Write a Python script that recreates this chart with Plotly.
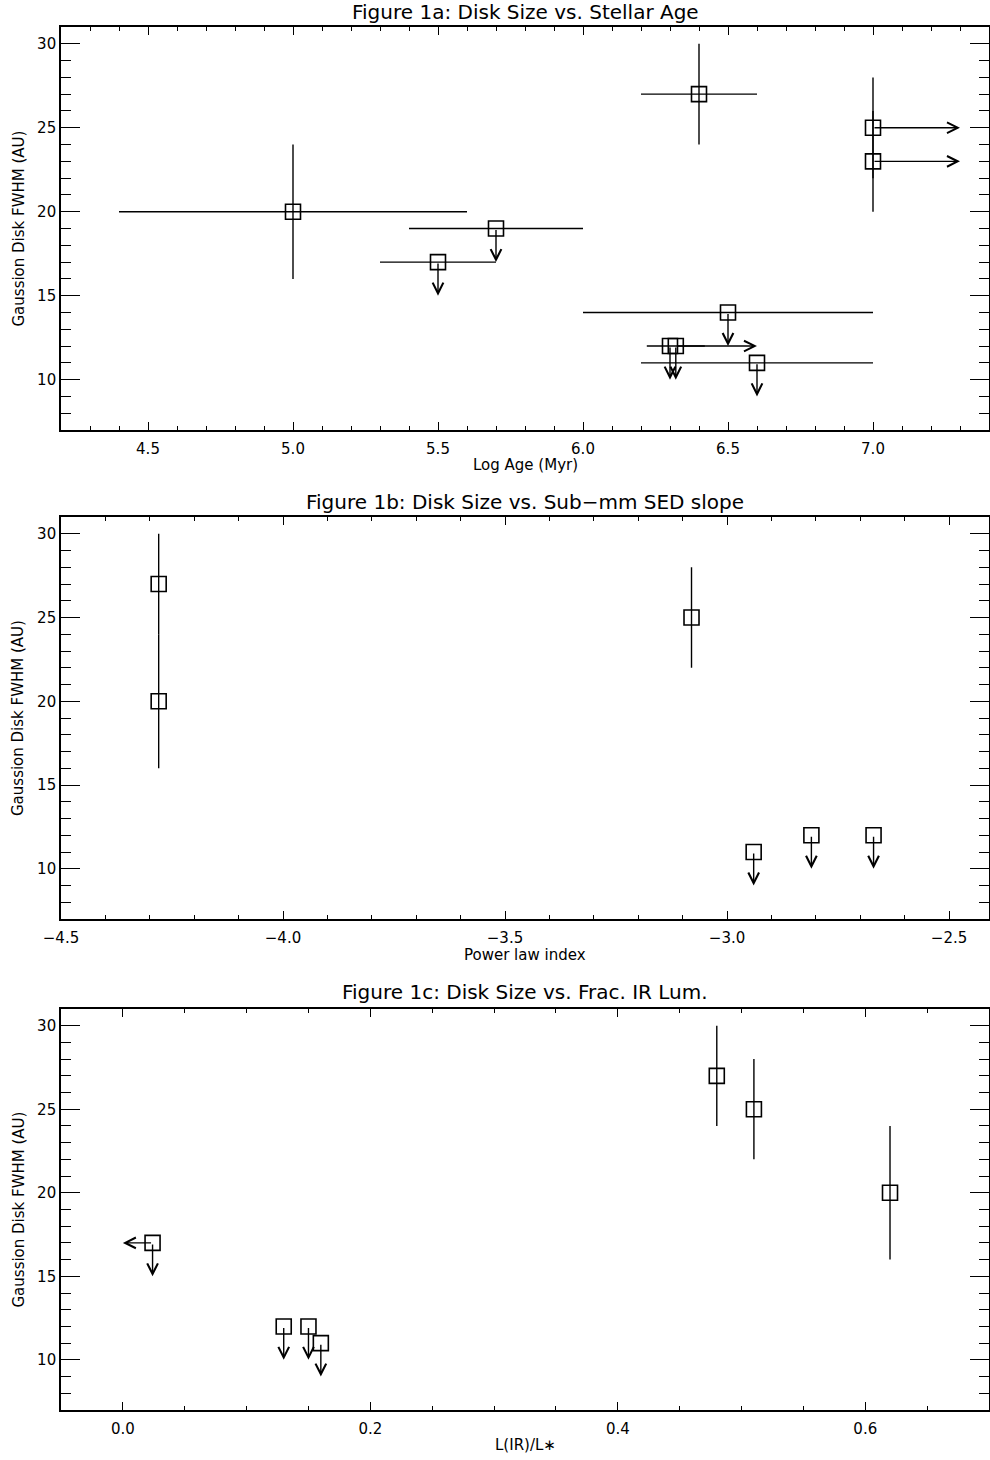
import plotly.graph_objects as go

# ---------------- Data ----------------
# Figure 1a: Log Age vs disk size
age = [5.0, 5.5, 5.7, 6.4, 7.0, 7.0, 6.5, 6.30, 6.32, 6.6]
age_lo = [4.4, 5.3, 5.4, 6.2, 7.0, 7.0, 6.0, 6.22, 6.32, 6.2]
age_hi = [5.6, 5.7, 6.0, 6.6, 7.0, 7.0, 7.0, 6.42, 6.32, 7.0]
size_a = [20, 17, 19, 27, 25, 23, 14, 12, 12, 11]
size_a_err = [4, 0, 0, 3, 3, 3, 0, 0, 0, 0]
# upper limits (down arrows) : index -> arrow end
a_ul_idx = [1, 2, 6, 7, 8, 9]
a_ul_end = [15, 17, 12, 10, 10, 9]
# lower limits on age (right arrows)
a_ll_idx = [4, 5, 8]
a_ll_end = [7.3, 7.3, 6.6]

# Figure 1b: sub-mm SED slope vs disk size
slope = [-4.28, -4.28, -3.08, -2.94, -2.81, -2.67]
size_b = [27, 20, 25, 11, 12, 12]
size_b_err = [3, 4, 3, 0, 0, 0]
b_ul_idx = [3, 4, 5]
b_ul_end = [9, 10, 10]

# Figure 1c: fractional IR luminosity vs disk size
lir = [0.024, 0.13, 0.15, 0.16, 0.48, 0.51, 0.62]
size_c = [17, 12, 12, 11, 27, 25, 20]
size_c_err = [0, 0, 0, 0, 3, 3, 4]
c_ul_idx = [0, 1, 2, 3]
c_ul_end = [15, 10, 10, 9]
c_xl_idx = [0]
c_xl_end = [0.0]

titles = ["Figure 1a: Disk Size vs. Stellar Age",
          "Figure 1b: Disk Size vs. Sub\u2212mm SED slope",
          "Figure 1c: Disk Size vs. Frac. IR Lum."]
xtitles = ["Log Age (Myr)", "Power law index", "L(IR)/L\u2217"]
ytitle = "Gaussion Disk FWHM (AU)"

# ---------------- Layout geometry ----------------
W, H = 990, 1460
xdom = [61 / W, 989 / W]
panels_px = [(27, 430), (517, 919), (1009, 1410)]
ydoms = [[1 - b / H, 1 - t / H] for (t, b) in panels_px]

FONT = "DejaVu Sans"
fig = go.Figure()

def add_points(x, y, yerr, xlo=None, xhi=None, k=1):
    ex = None
    if xlo is not None:
        ex = dict(type="data", symmetric=False,
                  array=[h - v for h, v in zip(xhi, x)],
                  arrayminus=[v - l for l, v in zip(xlo, x)],
                  color="black", thickness=1.4, width=0)
    fig.add_trace(go.Scatter(
        x=x, y=y, mode="markers",
        xaxis="x" if k == 1 else f"x{k}", yaxis="y" if k == 1 else f"y{k}",
        marker=dict(symbol="square-open", size=15, color="black",
                    line=dict(width=1.6, color="black")),
        error_y=dict(type="data", array=yerr, color="black", thickness=1.4, width=0),
        error_x=ex, showlegend=False, hoverinfo="skip"))

add_points(age, size_a, size_a_err, age_lo, age_hi, 1)
add_points(slope, size_b, size_b_err, None, None, 2)
add_points(lir, size_c, size_c_err, None, None, 3)

annotations = []

def arrow(x0, y0, x1, y1, k):
    xr = "x" if k == 1 else f"x{k}"
    yr = "y" if k == 1 else f"y{k}"
    annotations.append(dict(x=x1, y=y1, ax=x0, ay=y0, xref=xr, yref=yr,
                            axref=xr, ayref=yr, text="", showarrow=True,
                            arrowhead=5, arrowsize=1.5, arrowwidth=1.4,
                            arrowcolor="black", standoff=0, startstandoff=0))

for i, e in zip(a_ul_idx, a_ul_end):
    arrow(age[i], size_a[i], age[i], e, 1)
for i, e in zip(a_ll_idx, a_ll_end):
    arrow(age[i], size_a[i], e, size_a[i], 1)
for i, e in zip(b_ul_idx, b_ul_end):
    arrow(slope[i], size_b[i], slope[i], e, 2)
for i, e in zip(c_ul_idx, c_ul_end):
    arrow(lir[i], size_c[i], lir[i], e, 3)
for i, e in zip(c_xl_idx, c_xl_end):
    arrow(lir[i], size_c[i], e, size_c[i], 3)

# titles
title_y = [12, 502, 992]
xtitle_y = [465, 955, 1445]
for k in range(3):
    annotations.append(dict(x=0.5 * (xdom[0] + xdom[1]), y=1 - title_y[k] / H,
                            xref="paper", yref="paper", text=titles[k],
                            showarrow=False, xanchor="center", yanchor="middle",
                            font=dict(family=FONT, size=20, color="black")))
    annotations.append(dict(x=0.5 * (xdom[0] + xdom[1]), y=1 - xtitle_y[k] / H,
                            xref="paper", yref="paper", text=xtitles[k],
                            showarrow=False, xanchor="center", yanchor="middle",
                            font=dict(family=FONT, size=15, color="black")))
    t, b = panels_px[k]
    annotations.append(dict(x=18 / W, y=1 - (t + b) / 2 / H,
                            xref="paper", yref="paper", text=ytitle, textangle=-90,
                            showarrow=False, xanchor="center", yanchor="middle",
                            font=dict(family=FONT, size=15, color="black")))

xranges = [[4.2, 7.4], [-4.5, -2.41], [-0.05, 0.7]]
xdticks = [0.5, 0.5, 0.2]
xminor = [0.1, 0.1, 0.05]
xformats = [".1f", ".1f", ".1f"]

common_x = dict(ticks="inside", ticklen=8, tickwidth=1.4, showline=True,
                linecolor="black", linewidth=1.6, mirror="ticks", showgrid=False,
                zeroline=False, tickcolor="black", automargin=False,
                ticklabelstandoff=4,
                tickfont=dict(family=FONT, size=15, color="black"))
common_y = dict(ticks="inside", ticklen=19, tickwidth=1.4, showline=True,
                linecolor="black", linewidth=1.6, mirror="ticks", showgrid=False,
                zeroline=False, tickcolor="black", range=[7, 31],
                tick0=0, dtick=5, automargin=False,
                minor=dict(ticks="inside", ticklen=10, dtick=1, tickwidth=1.4,
                           tickcolor="black", showgrid=False),
                tickfont=dict(family=FONT, size=15, color="black"))

layout = dict(width=W, height=H, autosize=False, margin=dict(l=0, r=0, t=0, b=0, pad=0),
              paper_bgcolor="white", plot_bgcolor="white",
              annotations=annotations, showlegend=False)
for k in range(3):
    sx = "" if k == 0 else str(k + 1)
    layout[f"xaxis{sx}"] = dict(common_x, domain=xdom, range=xranges[k],
                                anchor=f"y{sx}", tick0=0, dtick=xdticks[k],
                                tickformat=xformats[k],
                                minor=dict(ticks="inside", ticklen=4, dtick=xminor[k],
                                           tickwidth=1.4, tickcolor="black",
                                           showgrid=False))
    layout[f"yaxis{sx}"] = dict(common_y, domain=ydoms[k], anchor=f"x{sx}")

fig.update_layout(**layout)
fig.write_html("out.html", config={"responsive": False, "displayModeBar": False},
               post_script="document.body.style.margin='0';"
                           "document.body.style.padding='0';"
                           "document.body.style.overflow='hidden';")
